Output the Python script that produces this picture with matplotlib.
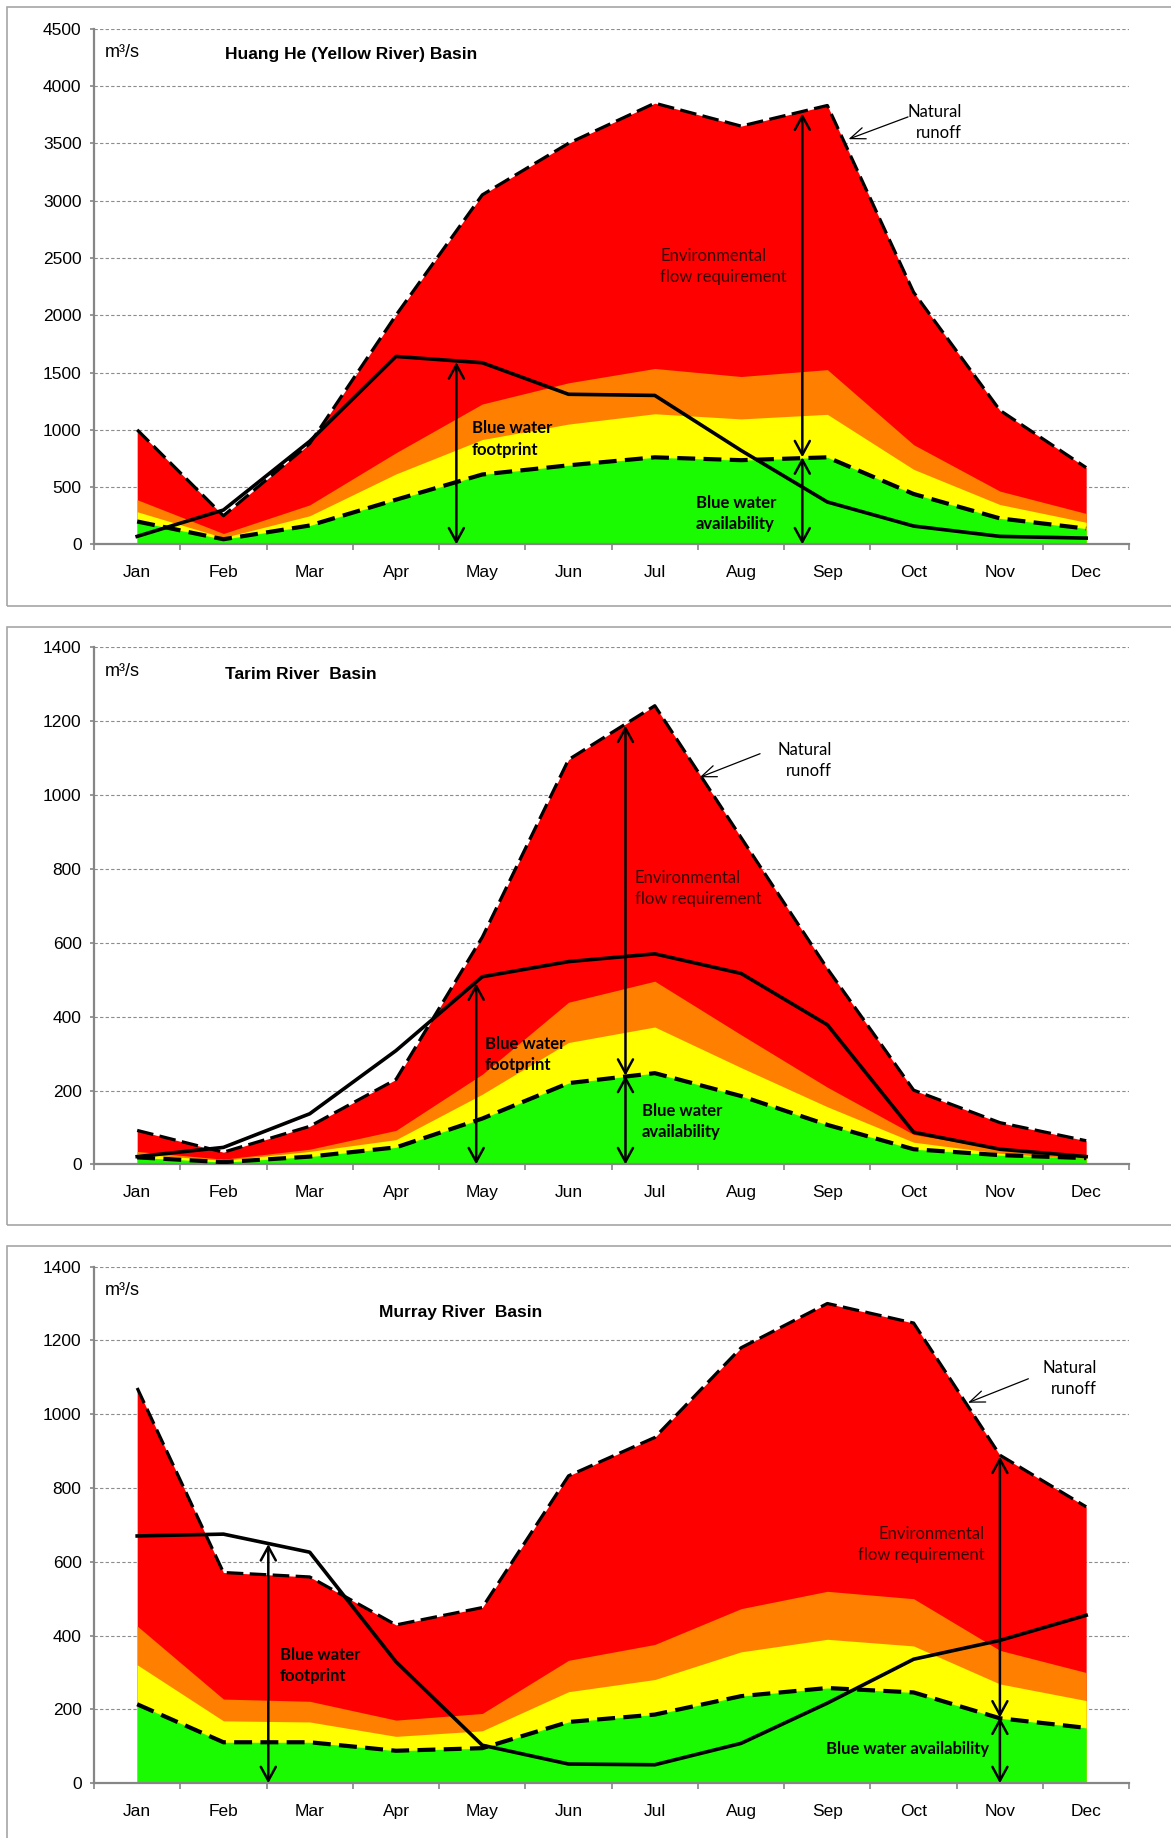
import numpy as np
import matplotlib
matplotlib.use('Agg')
import matplotlib.pyplot as plt
from matplotlib.patches import Rectangle

months = ['Jan', 'Feb', 'Mar', 'Apr', 'May', 'Jun',
          'Jul', 'Aug', 'Sep', 'Oct', 'Nov', 'Dec']

# Huang He (Yellow River) basin, m3/s
hh_runoff = [1000, 250, 880, 2000, 3050, 3500, 3850, 3650, 3830, 2200, 1170, 670]
hh_orange = [390, 95, 345, 800, 1225, 1410, 1535, 1465, 1525, 870, 465, 270]
hh_yellow = [285, 60, 250, 615, 915, 1050, 1140, 1095, 1135, 655, 348, 193]
hh_avail = [200, 45, 165, 390, 610, 690, 760, 735, 760, 440, 227, 138]
hh_footprint = [70, 300, 900, 1640, 1585, 1310, 1300, 820, 370, 160, 70, 55]

# Tarim River basin
tr_runoff = [92, 33, 103, 230, 615, 1096, 1242, 885, 530, 201, 113, 64]
tr_orange = [35, 14, 41, 92, 244, 439, 496, 351, 209, 81, 41, 25]
tr_yellow = [28, 11, 35, 67, 190, 330, 372, 262, 156, 60, 30, 14]
tr_avail = [19, 6, 21, 46, 124, 220, 247, 185, 107, 41, 25, 17]
tr_footprint = [21, 46, 137, 308, 508, 549, 570, 517, 378, 87, 41, 21]

# Murray River basin
mr_runoff = [1071, 571, 559, 429, 476, 833, 937, 1180, 1300, 1247, 889, 749]
mr_orange = [426, 228, 222, 171, 189, 333, 376, 473, 520, 500, 360, 300]
mr_yellow = [321, 169, 166, 127, 142, 248, 281, 356, 390, 372, 269, 224]
mr_avail = [214, 111, 111, 88, 95, 166, 186, 236, 258, 246, 176, 150]
mr_footprint = [670, 675, 626, 329, 103, 52, 50, 108, 217, 336, 387, 455]

RED = '#ff0000'
ORANGE = '#ff8000'
YELLOW = '#ffff00'
GREEN = '#1afa00'
GRAY = '#868686'

AX_FONT = 'Liberation Sans'
NOTE_FONT = ['Lato', 'DejaVu Sans']


def draw_panel(ax, runoff, orange, yellow, avail, footprint, ymax, ystep, title, title_x, title_y):
    x = np.arange(len(months))
    ax.fill_between(x, 0, runoff, color=RED, lw=0, zorder=2)
    ax.fill_between(x, 0, orange, color=ORANGE, lw=0, zorder=2)
    ax.fill_between(x, 0, yellow, color=YELLOW, lw=0, zorder=2)
    ax.fill_between(x, 0, avail, color=GREEN, lw=0, zorder=2)
    ax.plot(x, runoff, color='k', lw=2.3, dashes=(5.2, 2.0), zorder=4)
    ax.plot(x, avail, color='k', lw=3.0, dashes=(4.3, 2.0), zorder=4)
    ax.plot(x, footprint, color='k', lw=2.6, zorder=5)

    ax.set_xlim(-0.5, 11.5)
    ax.set_ylim(0, ymax)
    ax.set_xticks(x)
    ax.set_xticklabels(months, fontsize=12.5, family=AX_FONT)
    ax.set_xticks(np.arange(-0.5, 12, 1), minor=True)
    ax.tick_params(axis='x', which='major', length=0, pad=15)
    ax.tick_params(axis='x', which='minor', length=4, width=1.2, color=GRAY, direction='out')
    ax.set_yticks(np.arange(0, ymax + 1, ystep))
    ax.set_yticklabels([str(v) for v in np.arange(0, ymax + 1, ystep)], fontsize=12.5, family=AX_FONT)
    ax.tick_params(axis='y', length=3, width=1.2, color=GRAY, pad=6)
    for s in ['top', 'right']:
        ax.spines[s].set_visible(False)
    for s in ['left', 'bottom']:
        ax.spines[s].set_color(GRAY)
        ax.spines[s].set_linewidth(1.6)
    ax.yaxis.grid(True, color='#8c8c8c', lw=0.8, dashes=(3, 2))
    ax.set_axisbelow(True)

    ax.text(-0.38, ymax * 0.953, 'm³/s', fontsize=13, family=AX_FONT, va='center', ha='left')
    ax.text(title_x, title_y, title, fontsize=12.5, family=AX_FONT, fontweight='bold',
            va='center', ha='left')


def v_arrow(ax, x, y0, y1):
    ax.annotate('', xy=(x, y1), xytext=(x, y0),
                arrowprops=dict(arrowstyle='<->,head_length=0.55,head_width=0.3',
                                lw=1.8, color='k', shrinkA=0, shrinkB=0,
                                mutation_scale=18), zorder=6)


def pointer(ax, start, end):
    ax.annotate('', xy=end, xytext=start,
                arrowprops=dict(arrowstyle='->,head_length=0.9,head_width=0.35',
                                lw=0.9, color='k', shrinkA=0, shrinkB=0,
                                mutation_scale=12), zorder=6)


def note(ax, x, y, s, ha='left', bold=False, color='k'):
    ax.text(x, y, s, fontsize=12, family=NOTE_FONT, fontweight='bold' if bold else 'normal',
            ha=ha, va='center', color=color, linespacing=1.4, zorder=7)


fig = plt.figure(figsize=(11.71, 18.38), dpi=100)

# panel frames
for y0, y1 in [(7, 606), (627, 1225), (1246, 1860)]:
    fig.add_artist(Rectangle((7 / 1171, 1 - y1 / 1838), 1.2, (y1 - y0) / 1838,
                             transform=fig.transFigure, fill=False,
                             edgecolor='#a6a6a6', lw=1.2))

ax1 = fig.add_axes([0.0803, 0.7038, 0.8841, 0.2806])
ax2 = fig.add_axes([0.0803, 0.3665, 0.8841, 0.2813])
ax3 = fig.add_axes([0.0803, 0.0298, 0.8841, 0.2811])

# Huang He
draw_panel(ax1, hh_runoff, hh_orange, hh_yellow, hh_avail, hh_footprint, 4500, 500,
           'Huang He (Yellow River) Basin', 1.02, 4275)
v_arrow(ax1, 3.70, 0, 1590)
v_arrow(ax1, 7.71, 0, 760)
v_arrow(ax1, 7.71, 760, 3760)
note(ax1, 3.88, 920, 'Blue water\nfootprint', bold=True)
note(ax1, 6.065, 2424, 'Environmental\nflow requirement', color='#3a0000')
note(ax1, 9.555, 3680, 'Natural\nrunoff', ha='right')
pointer(ax1, (8.935, 3730), (8.245, 3536))
note(ax1, 6.477, 267, 'Blue water\navailability', bold=True)

# Tarim
draw_panel(ax2, tr_runoff, tr_orange, tr_yellow, tr_avail, tr_footprint, 1400, 200,
           'Tarim River  Basin', 1.02, 1326)
v_arrow(ax2, 3.93, 0, 490)
v_arrow(ax2, 5.66, 0, 240)
v_arrow(ax2, 5.66, 240, 1188)
note(ax2, 4.03, 297, 'Blue water\nfootprint', bold=True)
note(ax2, 5.768, 748, 'Environmental\nflow requirement', color='#3a0000')
note(ax2, 8.05, 1093, 'Natural\nrunoff', ha='right')
pointer(ax2, (7.22, 1112), (6.52, 1048))
note(ax2, 5.85, 116, 'Blue water\navailability', bold=True)

# Murray
draw_panel(ax3, mr_runoff, mr_orange, mr_yellow, mr_avail, mr_footprint, 1400, 200,
           'Murray River  Basin', 2.80, 1275)
v_arrow(ax3, 1.52, 0, 648)
v_arrow(ax3, 10.0, 0, 178)
v_arrow(ax3, 10.0, 178, 885)
note(ax3, 1.65, 318, 'Blue water\nfootprint', bold=True)
note(ax3, 9.82, 647, 'Environmental\nflow requirement', ha='right', color='#3a0000')
note(ax3, 11.125, 1096, 'Natural\nrunoff', ha='right')
pointer(ax3, (10.33, 1096), (9.63, 1031))
note(ax3, 7.99, 92, 'Blue water availability', bold=True)

fig.savefig('out.png', dpi=100)
